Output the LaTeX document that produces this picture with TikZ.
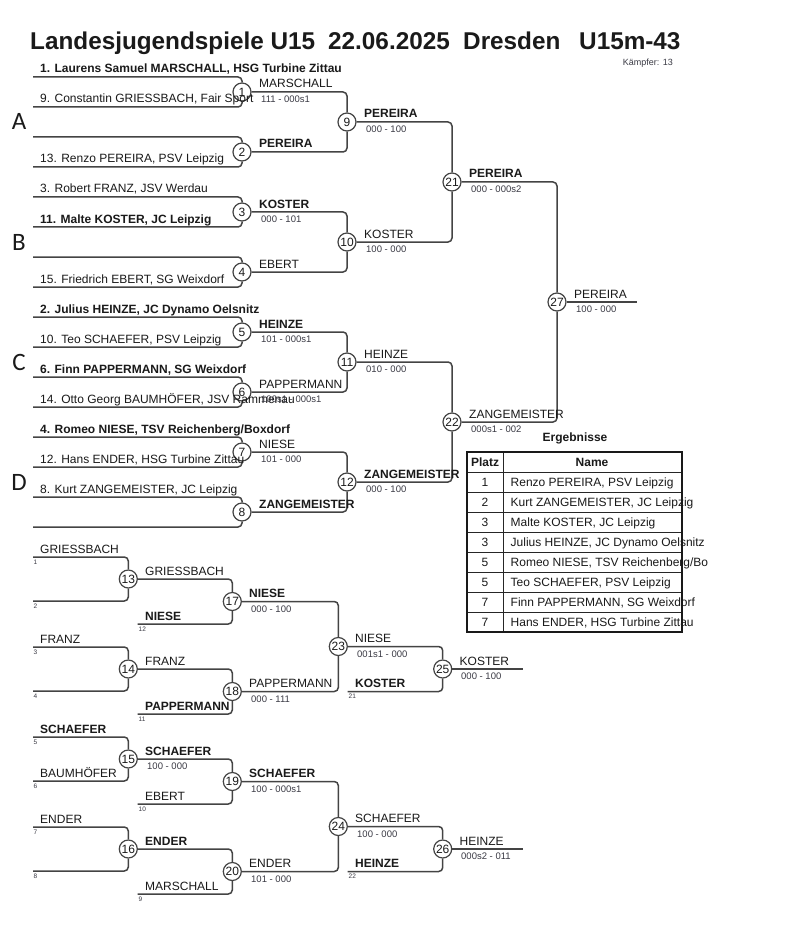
\documentclass[tikz,border=0pt]{standalone}
\usepackage{fontspec}
\setmainfont{Liberation Sans}
\newfontfamily\carl{Carlito}
\definecolor{linec}{HTML}{444444}
\definecolor{txtc}{HTML}{1A1A1A}
\definecolor{scorec}{HTML}{3A3A44}
\tikzset{
  ln/.style={draw=linec, line width=1.5pt, rounded corners=4pt},
  mc/.style={circle, draw=linec, line width=1.2pt, minimum size=18pt, inner sep=0pt, text=txtc, font=\fontsize{12}{12}\selectfont},
  nm/.style={anchor=base west, inner sep=0pt, text=txtc, font=\fontsize{12}{14}\selectfont},
  nmb/.style={anchor=base west, inner sep=0pt, text=txtc, font=\fontsize{12}{14}\selectfont\bfseries},
  sc/.style={anchor=base west, inner sep=0pt, text=scorec, font=\fontsize{9.5}{11}\selectfont},
  sm/.style={anchor=base west, inner sep=0pt, text=scorec, font=\fontsize{6.5}{7}\selectfont},
  ttl/.style={anchor=base west, inner sep=0pt, text=txtc, font=\fontsize{24.3}{27}\selectfont\bfseries},
  grp/.style={anchor=base, inner sep=0pt, text=txtc, font=\carl\fontsize{25}{28}\selectfont},
  tb/.style={anchor=base, inner sep=0pt, text=txtc, font=\fontsize{12}{14}\selectfont},
  tbb/.style={anchor=base, inner sep=0pt, text=txtc, font=\fontsize{12}{14}\selectfont\bfseries},
  tn/.style={anchor=base west, inner sep=0pt, text=txtc, font=\fontsize{12}{14}\selectfont},
}
\begin{document}
\begin{tikzpicture}[x=1pt,y=-1pt]
\useasboundingbox (0,0) rectangle (800,925);
\fill[white] (0,0) rectangle (800,925);

% ---------- title ----------
\node[ttl] (t1) at (30,49.5) {Landesjugendspiele U15};
\node[ttl] (t2) at (328,49.5) {22.06.2025};
\node[ttl] (t3) at (463,49.5) {Dresden};
\node[ttl] (t4) at (579,49.5) {U15m-43};
\node[anchor=base east, inner sep=0pt, text=scorec, font=\fontsize{9}{10}\selectfont] (kf) at (673,66) {Kämpfer: 13};

% ---------- group letters ----------
\node[grp] (gA) at (19,130) {A};
\node[grp] (gB) at (19,250) {B};
\node[grp] (gC) at (19,370) {C};
\node[grp] (gD) at (19,490) {D};

% ---------- main bracket circles ----------
\node[mc] (m1) at (242,92) {1};
\node[mc] (m2) at (242,152) {2};
\node[mc] (m3) at (242,212) {3};
\node[mc] (m4) at (242,272) {4};
\node[mc] (m5) at (242,332) {5};
\node[mc] (m6) at (242,392) {6};
\node[mc] (m7) at (242,452) {7};
\node[mc] (m8) at (242,512) {8};
\node[mc] (m9) at (347,122) {9};
\node[mc] (m10) at (347,242) {10};
\node[mc] (m11) at (347,362) {11};
\node[mc] (m12) at (347,482) {12};
\node[mc] (m21) at (452,182) {21};
\node[mc] (m22) at (452,422) {22};
\node[mc] (m27) at (557,302) {27};
\coordinate (fin) at (637,302);

% round 1 inputs
\foreach \k/\y in {1/92,2/152,3/212,4/272,5/332,6/392,7/452,8/512}{
  \coordinate (s\k a) at (33,\y-15);
  \coordinate (s\k b) at (33,\y+15);
  \draw[ln] (s\k a) -| (m\k);
  \draw[ln] (s\k b) -| (m\k);
}
\draw[ln] (m1) -| (m9);  \draw[ln] (m2) -| (m9);
\draw[ln] (m3) -| (m10); \draw[ln] (m4) -| (m10);
\draw[ln] (m5) -| (m11); \draw[ln] (m6) -| (m11);
\draw[ln] (m7) -| (m12); \draw[ln] (m8) -| (m12);
\draw[ln] (m9) -| (m21); \draw[ln] (m10) -| (m21);
\draw[ln] (m11) -| (m22); \draw[ln] (m12) -| (m22);
\draw[ln] (m21) -| (m27); \draw[ln] (m22) -| (m27);
\draw[ln] (m27) -- (fin);

% player names
\node[nmb] (p1) at (40,73) {1. Laurens Samuel MARSCHALL, HSG Turbine Zittau};
\node[nm] (p9) at (40,103) {9. Constantin GRIESSBACH, Fair Sport};
\node[nm] (p13) at (40,163) {13. Renzo PEREIRA, PSV Leipzig};
\node[nm] (p3) at (40,193) {3. Robert FRANZ, JSV Werdau};
\node[nmb] (p11) at (40,223) {11. Malte KOSTER, JC Leipzig};
\node[nm] (p15) at (40,283) {15. Friedrich EBERT, SG Weixdorf};
\node[nmb] (p2) at (40,313) {2. Julius HEINZE, JC Dynamo Oelsnitz};
\node[nm] (p10) at (40,343) {10. Teo SCHAEFER, PSV Leipzig};
\node[nmb] (p6) at (40,373) {6. Finn PAPPERMANN, SG Weixdorf};
\node[nm] (p14) at (40,403) {14. Otto Georg BAUMHÖFER, JSV Rammenau};
\node[nmb] (p4) at (40,433) {4. Romeo NIESE, TSV Reichenberg/Boxdorf};
\node[nm] (p12) at (40,463) {12. Hans ENDER, HSG Turbine Zittau};
\node[nm] (p8) at (40,493) {8. Kurt ZANGEMEISTER, JC Leipzig};

% round 1 winners
\node[nm] (w1) at (259,88) {MARSCHALL};     \node[sc] (c1) at (261,102.4) {111 - 000s1};
\node[nmb] (w2) at (259,148) {PEREIRA};
\node[nmb] (w3) at (259,208) {KOSTER};      \node[sc] (c3) at (261,222.4) {000 - 101};
\node[nm] (w4) at (259,268) {EBERT};
\node[nmb] (w5) at (259,328) {HEINZE};      \node[sc] (c5) at (261,342.4) {101 - 000s1};
\node[nm] (w6) at (259,388) {PAPPERMANN};   \node[sc] (c6) at (261,402.4) {100s1 - 000s1};
\node[nm] (w7) at (259,448) {NIESE};        \node[sc] (c7) at (261,462.4) {101 - 000};
\node[nmb] (w8) at (259,508) {ZANGEMEISTER};
% round 2
\node[nmb] (w9) at (364,118) {PEREIRA};     \node[sc] (c9) at (366,132.4) {000 - 100};
\node[nm] (w10) at (364,238) {KOSTER};      \node[sc] (c10) at (366,252.4) {100 - 000};
\node[nm] (w11) at (364,358) {HEINZE};      \node[sc] (c11) at (366,372.4) {010 - 000};
\node[nmb] (w12) at (364,478) {ZANGEMEISTER}; \node[sc] (c12) at (366,492.4) {000 - 100};
% round 3
\node[nmb] (w21) at (469,178) {PEREIRA};    \node[sc] (c21) at (471,192.4) {000 - 000s2};
\node[nm] (w22) at (469,418) {ZANGEMEISTER}; \node[sc] (c22) at (471,432.4) {000s1 - 002};
% final
\node[nm] (w27) at (574,298) {PEREIRA};     \node[sc] (c27) at (576,312.4) {100 - 000};

% ---------- results table ----------
\node[anchor=base, inner sep=0pt, text=txtc, font=\fontsize{12}{14}\selectfont\bfseries] (erg) at (575,441) {Ergebnisse};
\node[tbb] (hp) at (485,466.6) {Platz};
\node[tbb] (hn) at (592,466.6) {Name};
\foreach \i/\pl/\nam in {1/1/{Renzo PEREIRA, PSV Leipzig},
                         2/2/{Kurt ZANGEMEISTER, JC Leipzig},
                         3/3/{Malte KOSTER, JC Leipzig},
                         4/3/{Julius HEINZE, JC Dynamo Oelsnitz},
                         5/5/{Romeo NIESE, TSV Reichenberg/Bo},
                         6/5/{Teo SCHAEFER, PSV Leipzig},
                         7/7/{Finn PAPPERMANN, SG Weixdorf},
                         8/7/{Hans ENDER, HSG Turbine Zittau}}{
  \node[tb] (rp\i) at (485,466.6+20*\i) {\pl};
  \node[tn] (rn\i) at (510.5,466.6+20*\i) {\nam};
}
\foreach \i in {0,...,7}{
  \draw[line width=0.9pt, draw=black!85] (466.7,472.3+20*\i) -- (681.7,472.3+20*\i);
}
\draw[line width=0.9pt, draw=black!85] (503.3,452.3) -- (503.3,632.3);
\draw[line width=1.8pt, draw=black!90] (466.7,452.3) rectangle (681.7,632.3);

% ---------- repechage ----------
\node[mc] (r13) at (128.3,579) {13};
\node[mc] (r14) at (128.3,669) {14};
\node[mc] (r15) at (128.3,759) {15};
\node[mc] (r16) at (128.3,849) {16};
\node[mc] (r17) at (232.3,601.5) {17};
\node[mc] (r18) at (232.3,691.5) {18};
\node[mc] (r19) at (232.3,781.5) {19};
\node[mc] (r20) at (232.3,871.5) {20};
\node[mc] (r23) at (338.3,646.5) {23};
\node[mc] (r24) at (338.3,826.5) {24};
\node[mc] (r25) at (442.7,669) {25};
\node[mc] (r26) at (442.7,849) {26};

\foreach \k/\y in {13/579,14/669,15/759,16/849}{
  \coordinate (q\k a) at (33,\y-22);
  \coordinate (q\k b) at (33,\y+22);
  \draw[ln] (q\k a) -| (r\k);
  \draw[ln] (q\k b) -| (r\k);
}
\coordinate (q17) at (137.7,624);
\coordinate (q18) at (137.7,714);
\coordinate (q19) at (137.7,804);
\coordinate (q20) at (137.7,894);
\coordinate (q25) at (347.7,691.5);
\coordinate (q26) at (347.7,871.5);
\coordinate (e25) at (522.7,669);
\coordinate (e26) at (522.7,849);

\draw[ln] (r13) -| (r17); \draw[ln] (q17) -| (r17);
\draw[ln] (r14) -| (r18); \draw[ln] (q18) -| (r18);
\draw[ln] (r15) -| (r19); \draw[ln] (q19) -| (r19);
\draw[ln] (r16) -| (r20); \draw[ln] (q20) -| (r20);
\draw[ln] (r17) -| (r23); \draw[ln] (r18) -| (r23);
\draw[ln] (r19) -| (r24); \draw[ln] (r20) -| (r24);
\draw[ln] (r23) -| (r25); \draw[ln] (q25) -| (r25);
\draw[ln] (r24) -| (r26); \draw[ln] (q26) -| (r26);
\draw[ln] (r25) -- (e25);
\draw[ln] (r26) -- (e26);

% stage 1 labels
\node[nm] (l13a) at (40,553) {GRIESSBACH};   \node[sm] (n1) at (33.5,564) {1};
\node[sm] (n2) at (33.5,608) {2};
\node[nm] (l14a) at (40,643) {FRANZ};        \node[sm] (n3) at (33.5,654) {3};
\node[sm] (n4) at (33.5,698) {4};
\node[nmb] (l15a) at (40,733) {SCHAEFER};    \node[sm] (n5) at (33.5,744) {5};
\node[nm] (l15b) at (40,777) {BAUMHÖFER};    \node[sm] (n6) at (33.5,788) {6};
\node[nm] (l16a) at (40,823) {ENDER};        \node[sm] (n7) at (33.5,834) {7};
\node[sm] (n8) at (33.5,878) {8};
% stage 1 outputs
\node[nm] (o13) at (145,575) {GRIESSBACH};
\node[nm] (o14) at (145,665) {FRANZ};
\node[nmb] (o15) at (145,755) {SCHAEFER};    \node[sc] (k15) at (147,769.5) {100 - 000};
\node[nmb] (o16) at (145,845) {ENDER};
% stage 2 other inputs
\node[nmb] (l17) at (145,620) {NIESE};       \node[sm] (n12) at (138.5,631) {12};
\node[nmb] (l18) at (145,710) {PAPPERMANN};  \node[sm] (n11) at (138.5,721) {11};
\node[nm] (l19) at (145,800) {EBERT};        \node[sm] (n10) at (138.5,811) {10};
\node[nm] (l20) at (145,890) {MARSCHALL};    \node[sm] (n9) at (138.5,901) {9};
% stage 2 outputs
\node[nmb] (o17) at (249,597.5) {NIESE};     \node[sc] (k17) at (251,612) {000 - 100};
\node[nm] (o18) at (249,687.5) {PAPPERMANN}; \node[sc] (k18) at (251,702) {000 - 111};
\node[nmb] (o19) at (249,777.5) {SCHAEFER};  \node[sc] (k19) at (251,792) {100 - 000s1};
\node[nm] (o20) at (249,867.5) {ENDER};      \node[sc] (k20) at (251,882) {101 - 000};
% stage 3
\node[nm] (o23) at (355,642.5) {NIESE};      \node[sc] (k23) at (357,657) {001s1 - 000};
\node[nm] (o24) at (355,822.5) {SCHAEFER};   \node[sc] (k24) at (357,837) {100 - 000};
\node[nmb] (l25) at (355,687) {KOSTER};      \node[sm] (n21) at (348.5,698.5) {21};
\node[nmb] (l26) at (355,867) {HEINZE};      \node[sm] (n22) at (348.5,878.5) {22};
% stage 4
\node[nm] (o25) at (459.5,665) {KOSTER};     \node[sc] (k25) at (461,679.5) {000 - 100};
\node[nm] (o26) at (459.5,845) {HEINZE};     \node[sc] (k26) at (461,859.5) {000s2 - 011};
\end{tikzpicture}
\end{document}
